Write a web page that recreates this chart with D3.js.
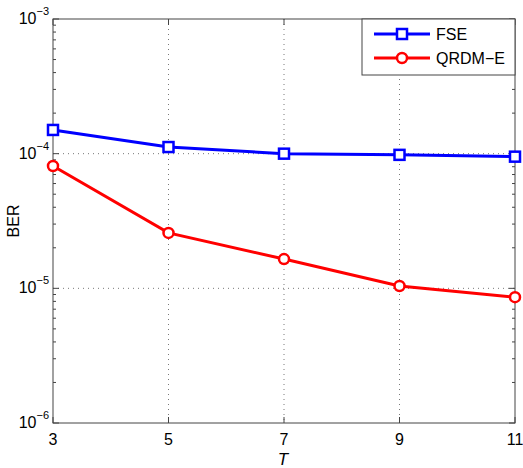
<!DOCTYPE html>
<html>
<head>
<meta charset="utf-8">
<script src="https://cdn.jsdelivr.net/npm/d3@7"></script>
<style>
  body { margin: 0; background: #fff; }
  text { font-family: "Liberation Sans", Arial, sans-serif; }
</style>
</head>
<body>
<svg id="chart" width="523" height="468"></svg>
<script>
// data
const tValues = [3, 5, 7, 9, 11];
const fseBer = [1.5e-4, 1.12e-4, 1.0e-4, 9.8e-5, 9.5e-5];
const qrdmBer = [8.1e-5, 2.58e-5, 1.65e-5, 1.04e-5, 8.6e-6];
const seriesNames = ["FSE", "QRDM\u2212E"];
const decadeExps = [-6, -5, -4, -3];

const svg = d3.select("svg#chart");
const margin = {left: 53, right: 8, top: 19, bottom: 45};
const width = 523 - margin.left - margin.right;
const height = 468 - margin.top - margin.bottom;

const x = d3.scaleLinear().domain([3, 11]).range([0, width]);
const y = d3.scaleLog().domain([1e-6, 1e-3]).range([height, 0]);

const g = svg.append("g").attr("transform", `translate(${margin.left},${margin.top})`);

// grid (dotted, majors only)
g.selectAll("line.vgrid").data(tValues.slice(1, -1)).join("line")
  .attr("x1", d => x(d)).attr("x2", d => x(d))
  .attr("y1", 0).attr("y2", height)
  .attr("stroke", "#555").attr("stroke-width", 0.8).attr("stroke-dasharray", "1,4");
g.selectAll("line.hgrid").data(decadeExps.slice(1, -1)).join("line")
  .attr("x1", 0).attr("x2", width)
  .attr("y1", d => y(Math.pow(10, d))).attr("y2", d => y(Math.pow(10, d)))
  .attr("stroke", "#555").attr("stroke-width", 0.8).attr("stroke-dasharray", "1,4");

// box
g.append("rect").attr("x", 0).attr("y", 0).attr("width", width).attr("height", height)
  .attr("fill", "none").attr("stroke", "#444").attr("stroke-width", 1);

// ticks inside, minor on log axis
const minor = [];
decadeExps.slice(0, -1).forEach(e => { for (let k = 2; k <= 9; k++) minor.push(k * Math.pow(10, e)); });
[0, width].forEach((xx, i) => {
  const dir = i === 0 ? 1 : -1;
  g.selectAll(null).data(minor).join("line")
    .attr("x1", xx).attr("x2", xx + dir * 3)
    .attr("y1", d => y(d)).attr("y2", d => y(d))
    .attr("stroke", "#444");
  g.selectAll(null).data(decadeExps).join("line")
    .attr("x1", xx).attr("x2", xx + dir * 6)
    .attr("y1", d => y(Math.pow(10, d))).attr("y2", d => y(Math.pow(10, d)))
    .attr("stroke", "#444");
});
[0, height].forEach((yy, i) => {
  const dir = i === 0 ? 1 : -1;
  g.selectAll(null).data(tValues).join("line")
    .attr("x1", d => x(d)).attr("x2", d => x(d))
    .attr("y1", yy).attr("y2", yy + dir * 6)
    .attr("stroke", "#444");
});

// tick labels
g.selectAll("text.xt").data(tValues).join("text")
  .attr("x", d => x(d)).attr("y", height + 22)
  .attr("text-anchor", "middle").attr("font-size", 16).text(d => d);
const yl = g.selectAll("text.yt").data(decadeExps).join("text")
  .attr("x", -4).attr("y", d => y(Math.pow(10, d)) + 5)
  .attr("text-anchor", "end").attr("font-size", 16);
yl.append("tspan").text("10");
yl.append("tspan").attr("dy", -9).attr("font-size", 11).text(d => "\u2212" + Math.abs(d));

// axis titles
svg.append("text").attr("x", margin.left + width / 2 - 1).attr("y", 465)
  .attr("text-anchor", "middle").attr("font-size", 17).attr("font-style", "italic").text("T");
svg.append("text").attr("transform", `translate(19,${margin.top + height / 2}) rotate(-90)`)
  .attr("text-anchor", "middle").attr("font-size", 16).text("BER");

// series
const line = d3.line().x(d => x(d[0])).y(d => y(d[1]));
const series = [
  {name: seriesNames[0], vals: fseBer, color: "#0000ff", marker: "square"},
  {name: seriesNames[1], vals: qrdmBer, color: "#ff0000", marker: "circle"}
];

function drawMarker(sel, s, cx, cy) {
  if (s.marker === "square") {
    sel.append("rect").attr("x", cx - 5).attr("y", cy - 5).attr("width", 10).attr("height", 10)
      .attr("fill", "#fff").attr("stroke", s.color).attr("stroke-width", 2.5);
  } else {
    sel.append("circle").attr("cx", cx).attr("cy", cy).attr("r", 5)
      .attr("fill", "#fff").attr("stroke", s.color).attr("stroke-width", 2.5);
  }
}

series.forEach(s => {
  const pts = tValues.map((t, i) => [t, s.vals[i]]);
  g.append("path").attr("d", line(pts)).attr("fill", "none")
    .attr("stroke", s.color).attr("stroke-width", 3);
  pts.forEach(p => drawMarker(g, s, x(p[0]), y(p[1])));
});

// legend
const lg = svg.append("g");
const lx = 362, ly = 19, lw = 515 - 362, lh = 56;
lg.append("rect").attr("x", lx).attr("y", ly).attr("width", lw).attr("height", lh)
  .attr("fill", "#fff").attr("stroke", "#444");
series.forEach((s, i) => {
  const yy = 34 + i * 24;
  lg.append("line").attr("x1", 374).attr("x2", 430).attr("y1", yy).attr("y2", yy)
    .attr("stroke", s.color).attr("stroke-width", 3);
  drawMarker(lg, s, 402, yy);
  lg.append("text").attr("x", 436).attr("y", yy + 6).attr("font-size", 16).text(s.name);
});
</script>
</body>
</html>
